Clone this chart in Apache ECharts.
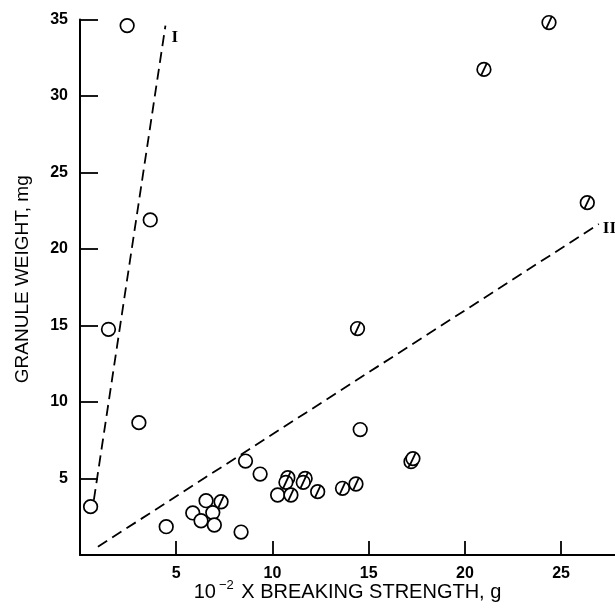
<!DOCTYPE html>
<html>
<head>
<meta charset="utf-8">
<script src="https://cdn.jsdelivr.net/npm/echarts@6/dist/echarts.min.js"></script>
<style>
html,body{margin:0;padding:0;background:#fff;}
#c{width:615px;height:609px;}
</style>
</head>
<body>
<div id="c"></div>
<script>
// Open circles
const openX = [2.45, 3.65, 1.48, 3.06, 0.55, 4.48, 5.86, 6.29, 6.55, 6.90, 6.98, 8.37, 8.60, 9.36, 10.27, 14.56];
const openY = [34.6, 21.9, 14.75, 8.65, 3.16, 1.85, 2.75, 2.24, 3.55, 2.77, 1.96, 1.50, 6.14, 5.29, 3.92, 8.20];
// Hatched circles
const hatchX = [7.33, 10.80, 10.70, 10.96, 11.70, 11.60, 12.35, 13.64, 14.34, 14.42, 17.20, 17.30, 20.99, 24.37, 26.36];
const hatchY = [3.48, 5.05, 4.75, 3.92, 5.00, 4.75, 4.14, 4.36, 4.64, 14.80, 6.10, 6.30, 31.74, 34.80, 23.03];
// Dashed lines
const lineIX = [0.72, 4.44];
const lineIY = [3.6, 34.6];
const lineIIX = [0.93, 26.96];
const lineIIY = [0.54, 21.63];
const xTicks = [5, 10, 15, 20, 25];
const yTicks = [5, 10, 15, 20, 25, 30, 35];

const zip = (a, b) => a.map((v, i) => [v, b[i]]);

function makeRender(hatched) {
  return function (params, api) {
    const p = api.coord([api.value(0), api.value(1)]);
    const children = [{
      type: 'circle',
      shape: { cx: p[0], cy: p[1], r: 6.8 },
      style: { fill: '#fff', stroke: '#000', lineWidth: 1.7 }
    }];
    if (hatched) {
      children.push({
        type: 'line',
        shape: { x1: p[0] - 2.6, y1: p[1] + 5.6, x2: p[0] + 2.6, y2: p[1] - 5.6 },
        style: { stroke: '#000', lineWidth: 1.8 }
      });
    }
    return { type: 'group', children: children };
  };
}

const chart = echarts.init(document.getElementById('c'));
const labelFont = { fontFamily: 'Liberation Sans', fontWeight: 'bold', fontSize: 16, color: '#000' };
chart.setOption({
  animation: false,
  backgroundColor: '#fff',
  grid: { left: 80, top: 19.5, right: 0, bottom: 54, containLabel: false, outerBoundsMode: 'none' },
  xAxis: {
    type: 'value', min: 0, max: 27.8, interval: 5,
    axisLine: { show: true, lineStyle: { color: '#000', width: 2 } },
    axisTick: { show: true, inside: true, length: 14, lineStyle: { color: '#000', width: 1.8 } },
    axisLabel: Object.assign({ margin: 11, showMinLabel: false, showMaxLabel: false,
      formatter: v => xTicks.includes(v) ? String(v) : '' }, labelFont),
    splitLine: { show: false },
    name: '{a|10}{s|−2}{a| X BREAKING STRENGTH, g}',
    nameLocation: 'middle',
    nameGap: 24,
    nameMoveOverlap: false,
    nameTextStyle: {
      rich: {
        a: { fontFamily: 'Liberation Sans', fontSize: 20, color: '#000', lineHeight: 23, verticalAlign: 'bottom' },
        s: { fontFamily: 'Liberation Sans', fontSize: 13, color: '#000', lineHeight: 23, verticalAlign: 'top', padding: [0, 2, 0, 3] }
      }
    }
  },
  yAxis: {
    type: 'value', min: 0, max: 35, interval: 5,
    axisLine: { show: true, lineStyle: { color: '#000', width: 2 } },
    axisTick: { show: true, inside: true, length: 18, lineStyle: { color: '#000', width: 1.8 } },
    axisLabel: Object.assign({ margin: 12, showMinLabel: false,
      formatter: v => yTicks.includes(v) ? String(v) : '' }, labelFont),
    splitLine: { show: false },
    name: 'GRANULE WEIGHT, mg',
    nameLocation: 'middle',
    nameGap: 48,
    nameMoveOverlap: false,
    nameTextStyle: { fontFamily: 'Liberation Sans', fontSize: 19, color: '#000', padding: [0, 0, 0, 16] }
  },
  series: [
    {
      type: 'line', data: zip(lineIX, lineIY), symbol: 'none',
      lineStyle: { color: '#000', width: 1.8, type: [11, 6] },
      endLabel: { show: true, formatter: 'I', fontFamily: 'Liberation Serif', fontWeight: 'bold', fontSize: 17, color: '#000', offset: [2, 12], distance: 4 }
    },
    {
      type: 'line', data: zip(lineIIX, lineIIY), symbol: 'none',
      lineStyle: { color: '#000', width: 1.8, type: [11, 6] },
      endLabel: { show: true, formatter: 'II', fontFamily: 'Liberation Serif', fontWeight: 'bold', fontSize: 17, color: '#000', offset: [0, 5], distance: 4 }
    },
    { type: 'custom', data: zip(openX, openY), renderItem: makeRender(false), encode: { x: 0, y: 1 }, z: 3 },
    { type: 'custom', data: zip(hatchX, hatchY), renderItem: makeRender(true), encode: { x: 0, y: 1 }, z: 4 }
  ]
});
</script>
</body>
</html>
